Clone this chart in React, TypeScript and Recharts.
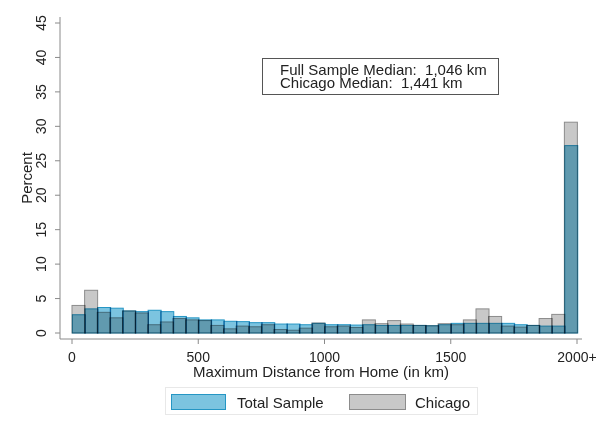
import React from "react";
import { BarChart, Bar, XAxis, YAxis } from "recharts";

// 50 km bins from 0 to 2000; the last bin holds 2000+
const binStarts = [
  0, 50, 100, 150, 200, 250, 300, 350, 400, 450, 500, 550, 600, 650, 700, 750, 800, 850, 900, 950,
  1000, 1050, 1100, 1150, 1200, 1250, 1300, 1350, 1400, 1450, 1500, 1550, 1600, 1650, 1700, 1750,
  1800, 1850, 1900, 1950,
];
const totalSample = [
  2.65, 3.5, 3.7, 3.6, 3.2, 3.1, 3.3, 3.1, 2.4, 2.2, 1.9, 1.9, 1.7, 1.65, 1.5, 1.5, 1.3, 1.3, 1.2, 1.4,
  1.2, 1.2, 1.15, 1.2, 1.1, 1.1, 1.1, 1.1, 1.05, 1.2, 1.4, 1.4, 1.4, 1.4, 1.4, 1.2, 1.1, 1.0, 1.0, 27.2,
];
const chicago = [
  4.0, 6.2, 3.0, 2.2, 3.2, 2.9, 1.2, 1.6, 2.1, 1.9, 1.8, 1.1, 0.6, 1.0, 0.9, 1.2, 0.5, 0.4, 0.7, 1.45,
  0.9, 1.0, 0.8, 1.9, 1.35, 1.8, 1.3, 1.1, 1.05, 1.35, 1.2, 1.9, 3.5, 2.4, 1.0, 0.85, 1.1, 2.1, 2.7, 30.6,
];
const xTicks = [0, 500, 1000, 1500, 2000];
const yTicks = [0, 5, 10, 15, 20, 25, 30, 35, 40, 45];
const medianLines = ["Full Sample Median:  1,046 km", "Chicago Median:  1,441 km"];

const data = binStarts.map((start, i) => ({
  bin: start,
  total: totalSample[i],
  chicago: chicago[i],
}));

const FONT = "'Liberation Sans', Arial, sans-serif";
const BLUE = "#7cc4e0";
const BLUE_EDGE = "#2596c4";
const GRAY = "#c8c8c8";
const GRAY_EDGE = "#8c8c8c";
const AXIS = "#8a8a8a";

function BlendBar(props: any) {
  const { x, y, width, height, fill, stroke } = props;
  if (!height || height <= 0) return null;
  return (
    <rect
      x={x}
      y={y}
      width={width}
      height={height}
      fill={fill}
      stroke={stroke}
      strokeWidth={1}
      style={{ mixBlendMode: "multiply" }}
    />
  );
}

function YTick(props: any) {
  const { x, y, payload } = props;
  return (
    <text
      x={x}
      y={y}
      transform={`rotate(-90 ${x} ${y})`}
      textAnchor="middle"
      fontSize={14}
      fill="#222"
      fontFamily={FONT}
    >
      {payload.value}
    </text>
  );
}

export default function App() {
  return (
    <div style={{ position: "absolute", left: 0, top: 0, width: 597, height: 433, background: "#fff", fontFamily: FONT }}>
      <BarChart
        width={597}
        height={433}
        data={data}
        margin={{ top: 17, right: 15, left: 0, bottom: 49 }}
        barCategoryGap={0}
        barGap="-100%"
      >
        <XAxis
          xAxisId="km"
          dataKey="bin"
          type="number"
          domain={[0, 2000]}
          allowDataOverflow
          ticks={xTicks}
          interval={0}
          tickFormatter={(v: number) => (v === 2000 ? "2000+" : String(v))}
          padding={{ left: 12, right: 5 }}
          height={45}
          tickSize={5}
          tickMargin={8}
          stroke={AXIS}
          tick={{ fill: "#222", fontSize: 14, fontFamily: FONT }}
          label={{
            value: "Maximum Distance from Home (in km)",
            position: "insideBottom",
            offset: 7,
            fill: "#222",
            fontSize: 15,
            fontFamily: FONT,
          }}
        />
        <XAxis xAxisId="bins" dataKey="bin" hide height={0} padding={{ left: 12, right: 5 }} />
        <YAxis
          domain={[0, 45]}
          ticks={yTicks}
          width={60}
          padding={{ top: 6, bottom: 6 }}
          tickSize={5}
          tickMargin={9}
          stroke={AXIS}
          tick={<YTick />}
          label={{
            value: "Percent",
            angle: -90,
            position: "insideLeft",
            offset: 27,
            fill: "#222",
            fontSize: 15,
            fontFamily: FONT,
            style: { textAnchor: "middle" },
          }}
        />
        <Bar
          xAxisId="bins"
          dataKey="chicago"
          fill={GRAY}
          stroke={GRAY_EDGE}
          shape={<BlendBar />}
          isAnimationActive={false}
        />
        <Bar
          xAxisId="bins"
          dataKey="total"
          fill={BLUE}
          stroke={BLUE_EDGE}
          shape={<BlendBar />}
          isAnimationActive={false}
        />
      </BarChart>

      <div
        style={{
          position: "absolute",
          left: 262,
          top: 58,
          width: 237,
          height: 37,
          boxSizing: "border-box",
          border: "1px solid #555",
          padding: "4px 0 0 17px",
          fontSize: 15,
          lineHeight: "13.3px",
          color: "#222",
          whiteSpace: "pre",
        }}
      >
        {medianLines.map((t) => (
          <div key={t}>{t}</div>
        ))}
      </div>

      <div
        style={{
          position: "absolute",
          left: 165,
          top: 387,
          width: 313,
          height: 28,
          boxSizing: "border-box",
          border: "1px solid #e8e8e8",
          fontSize: 15,
          lineHeight: "15px",
          color: "#222",
        }}
      >
        <div style={{ position: "absolute", left: 5, top: 6, width: 55, height: 16, boxSizing: "border-box", background: BLUE, border: `1px solid ${BLUE_EDGE}` }} />
        <span style={{ position: "absolute", left: 71, top: 6.6, whiteSpace: "nowrap" }}>Total Sample</span>
        <div style={{ position: "absolute", left: 183, top: 6, width: 57, height: 16, boxSizing: "border-box", background: GRAY, border: `1px solid ${GRAY_EDGE}` }} />
        <span style={{ position: "absolute", left: 249, top: 6.6, whiteSpace: "nowrap" }}>Chicago</span>
      </div>
    </div>
  );
}
